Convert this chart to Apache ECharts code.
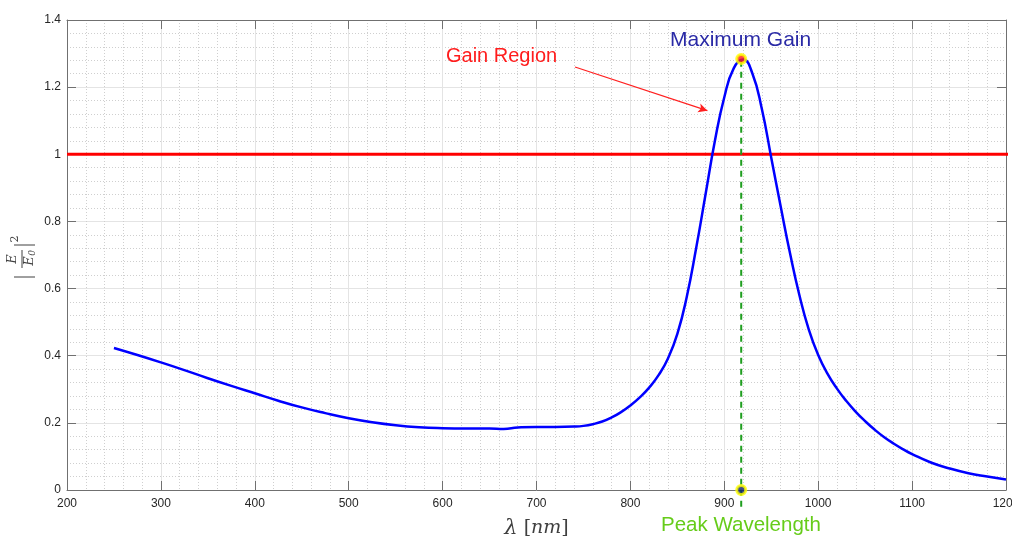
<!DOCTYPE html>
<html>
<head>
<meta charset="utf-8">
<script src="https://cdn.jsdelivr.net/npm/echarts@6/dist/echarts.min.js"></script>
<style>
  html, body { margin: 0; padding: 0; background: #fff; }
  #chart { width: 1012px; height: 538px; }
</style>
</head>
<body>
<div id="chart"></div>
<script>
// Field enhancement spectrum |E/E0|^2 versus wavelength (nm)
const wavelength = [250, 275, 300, 325, 350, 375, 400, 425, 450, 475, 500, 525, 550, 575, 600, 625, 650, 665, 680, 700, 720, 740, 750, 760, 770, 780, 790, 800, 810, 820, 830, 840, 850, 860, 870, 880, 890, 900, 910, 920, 930, 940, 950, 960, 970, 980, 990, 1000, 1010, 1020, 1030, 1040, 1050, 1060, 1070, 1080, 1090, 1100, 1120, 1140, 1160, 1180, 1200];
const enhancement = [0.423, 0.402, 0.380, 0.357, 0.333, 0.310, 0.288, 0.266, 0.246, 0.229, 0.214, 0.202, 0.193, 0.187, 0.184, 0.183, 0.183, 0.182, 0.186, 0.188, 0.188, 0.189, 0.191, 0.196, 0.204, 0.216, 0.232, 0.252, 0.276, 0.305, 0.342, 0.392, 0.465, 0.575, 0.720, 0.880, 1.040, 1.170, 1.256, 1.282, 1.240, 1.135, 0.990, 0.845, 0.705, 0.580, 0.478, 0.402, 0.346, 0.302, 0.265, 0.233, 0.205, 0.180, 0.158, 0.139, 0.122, 0.107, 0.082, 0.064, 0.050, 0.040, 0.031];

const xTicks = [200, 300, 400, 500, 600, 700, 800, 900, 1000, 1100, 1200];
const yTicks = [0, 0.2, 0.4, 0.6, 0.8, 1, 1.2, 1.4];

const gainThreshold = 1;        // |E/E0|^2 = 1 boundary
const peakWavelength = 918;     // nm
const peakValue = 1.284;
const gainArrowFrom = [741, 1.26];
const gainArrowTo = [882, 1.13];

const curve = wavelength.map((w, i) => [w, enhancement[i]]);

const chart = echarts.init(document.getElementById('chart'), null, { renderer: 'canvas' });

const frameColor = '#707070';
const labelFont = { color: '#262626', fontSize: 12, fontFamily: 'Liberation Sans, Arial, sans-serif' };
const plain = v => String(v);

function mainAxis(ticks, extra) {
  return Object.assign({
    type: 'value',
    min: ticks[0],
    max: ticks[ticks.length - 1],
    interval: ticks[1] - ticks[0],
    axisLine: { show: true, onZero: false, lineStyle: { color: frameColor, width: 1 } },
    axisTick: { show: true, inside: true, length: 9, lineStyle: { color: frameColor } },
    minorTick: { show: false, splitNumber: 5 },
    splitLine: { show: true, lineStyle: { color: '#e4e4e4', width: 1 } },
    minorSplitLine: { show: true, lineStyle: { color: '#cfcfcf', width: 1, type: [1, 2] } }
  }, extra);
}
function mirrorAxis(ticks, extra) {
  return Object.assign({
    type: 'value',
    min: ticks[0],
    max: ticks[ticks.length - 1],
    interval: ticks[1] - ticks[0],
    axisLine: { show: true, onZero: false, lineStyle: { color: frameColor, width: 1 } },
    axisTick: { show: true, inside: true, length: 9, lineStyle: { color: frameColor } },
    axisLabel: { show: false },
    splitLine: { show: false }
  }, extra);
}

const option = {
  animation: false,
  backgroundColor: '#ffffff',
  grid: { left: 67, right: 6, top: 20, bottom: 48, containLabel: false, outerBoundsMode: 'none' },
  xAxis: [
    mainAxis(xTicks, {
      position: 'bottom',
      axisLabel: Object.assign({ margin: 8, formatter: plain }, labelFont),
      name: '{a|λ}{b| [}{c|nm}{b|]}',
      nameLocation: 'middle',
      nameGap: 28,
      nameTextStyle: {
        rich: {
          a: { fontFamily: 'DejaVu Serif, serif', fontStyle: 'italic', fontSize: 21, color: '#404040' },
          b: { fontFamily: 'DejaVu Serif, serif', fontSize: 19, color: '#404040' },
          c: { fontFamily: 'DejaVu Serif, serif', fontStyle: 'italic', fontSize: 19, color: '#404040' }
        }
      }
    }),
    mirrorAxis(xTicks, { position: 'top' })
  ],
  yAxis: [
    mainAxis(yTicks, {
      position: 'left',
      axisLabel: Object.assign({ margin: 6, formatter: plain }, labelFont)
    }),
    mirrorAxis(yTicks, { position: 'right' })
  ],
  series: [
    {
      name: 'enhancement',
      type: 'line',
      data: curve,
      smooth: 0.5,
      showSymbol: false,
      lineStyle: { color: '#0000ff', width: 2.5 },
      z: 5,
      markLine: {
        silent: true,
        symbol: ['none', 'arrow'],
        symbolSize: [7, 9],
        lineStyle: { color: '#ff2020', width: 1.2, type: 'solid' },
        label: { show: false },
        data: [[{ coord: gainArrowFrom }, { coord: gainArrowTo }]]
      }
    },
    {
      name: 'threshold',
      type: 'line',
      data: [[xTicks[0], gainThreshold], [xTicks[xTicks.length - 1] + 6, gainThreshold]],
      showSymbol: false,
      clip: false,
      lineStyle: { color: '#ff0000', width: 3 },
      z: 4
    },
    {
      name: 'peak-guide',
      type: 'line',
      data: [[peakWavelength, -0.05], [peakWavelength, peakValue]],
      showSymbol: false,
      clip: false,
      lineStyle: { color: '#1f9e1f', width: 2, type: [6, 5] },
      z: 6
    },
    {
      name: 'peak-points',
      type: 'scatter',
      clip: false,
      z: 8,
      symbolSize: 9,
      data: [
        { value: [peakWavelength, peakValue], itemStyle: { color: '#ff1a1a', borderColor: '#ffff00', borderWidth: 3 } },
        { value: [peakWavelength, 0], itemStyle: { color: '#10206e', borderColor: '#ffff00', borderWidth: 3 } }
      ]
    }
  ],
  graphic: [
    {
      type: 'text', left: 670, top: 30, z: 20,
      style: { text: 'Maximum Gain', fill: '#2a2aa6', fontSize: 21, fontFamily: 'Liberation Sans, Arial, sans-serif' }
    },
    {
      type: 'text', left: 446, top: 46, z: 20,
      style: { text: 'Gain Region', fill: '#ff1c1c', fontSize: 20, fontFamily: 'Liberation Sans, Arial, sans-serif' }
    },
    {
      type: 'text', left: 661, top: 515, z: 20,
      style: { text: 'Peak Wavelength', fill: '#66cc1a', fontSize: 20.5, fontFamily: 'Liberation Sans, Arial, sans-serif' }
    },
    // y-axis title: |E / E0|^2 drawn as a rotated little formula
    {
      type: 'group', x: 24, y: 260, rotation: Math.PI / 2, z: 20,
      children: [
        { type: 'line', shape: { x1: -17, y1: -10, x2: -17, y2: 11 }, style: { stroke: '#404040', lineWidth: 1 } },
        { type: 'text', x: 1, y: -11, style: { text: 'E', fill: '#404040', fontSize: 13, fontStyle: 'italic', fontFamily: 'DejaVu Serif, serif', align: 'center', verticalAlign: 'middle' } },
        { type: 'line', shape: { x1: -8, y1: -2, x2: 10, y2: -2 }, style: { stroke: '#404040', lineWidth: 1 } },
        { type: 'text', x: -1, y: 6, style: { text: 'E', fill: '#404040', fontSize: 13, fontStyle: 'italic', fontFamily: 'DejaVu Serif, serif', align: 'center', verticalAlign: 'middle' } },
        { type: 'text', x: 7, y: 9, style: { text: '0', fill: '#404040', fontSize: 9, fontStyle: 'italic', fontFamily: 'DejaVu Serif, serif', align: 'center', verticalAlign: 'middle' } },
        { type: 'line', shape: { x1: 15, y1: -10, x2: 15, y2: 11 }, style: { stroke: '#404040', lineWidth: 1 } },
        { type: 'text', x: 21, y: -9, style: { text: '2', fill: '#404040', fontSize: 11, fontFamily: 'DejaVu Serif, serif', align: 'center', verticalAlign: 'middle' } }
      ]
    }
  ]
};

chart.setOption(option);
</script>
</body>
</html>
